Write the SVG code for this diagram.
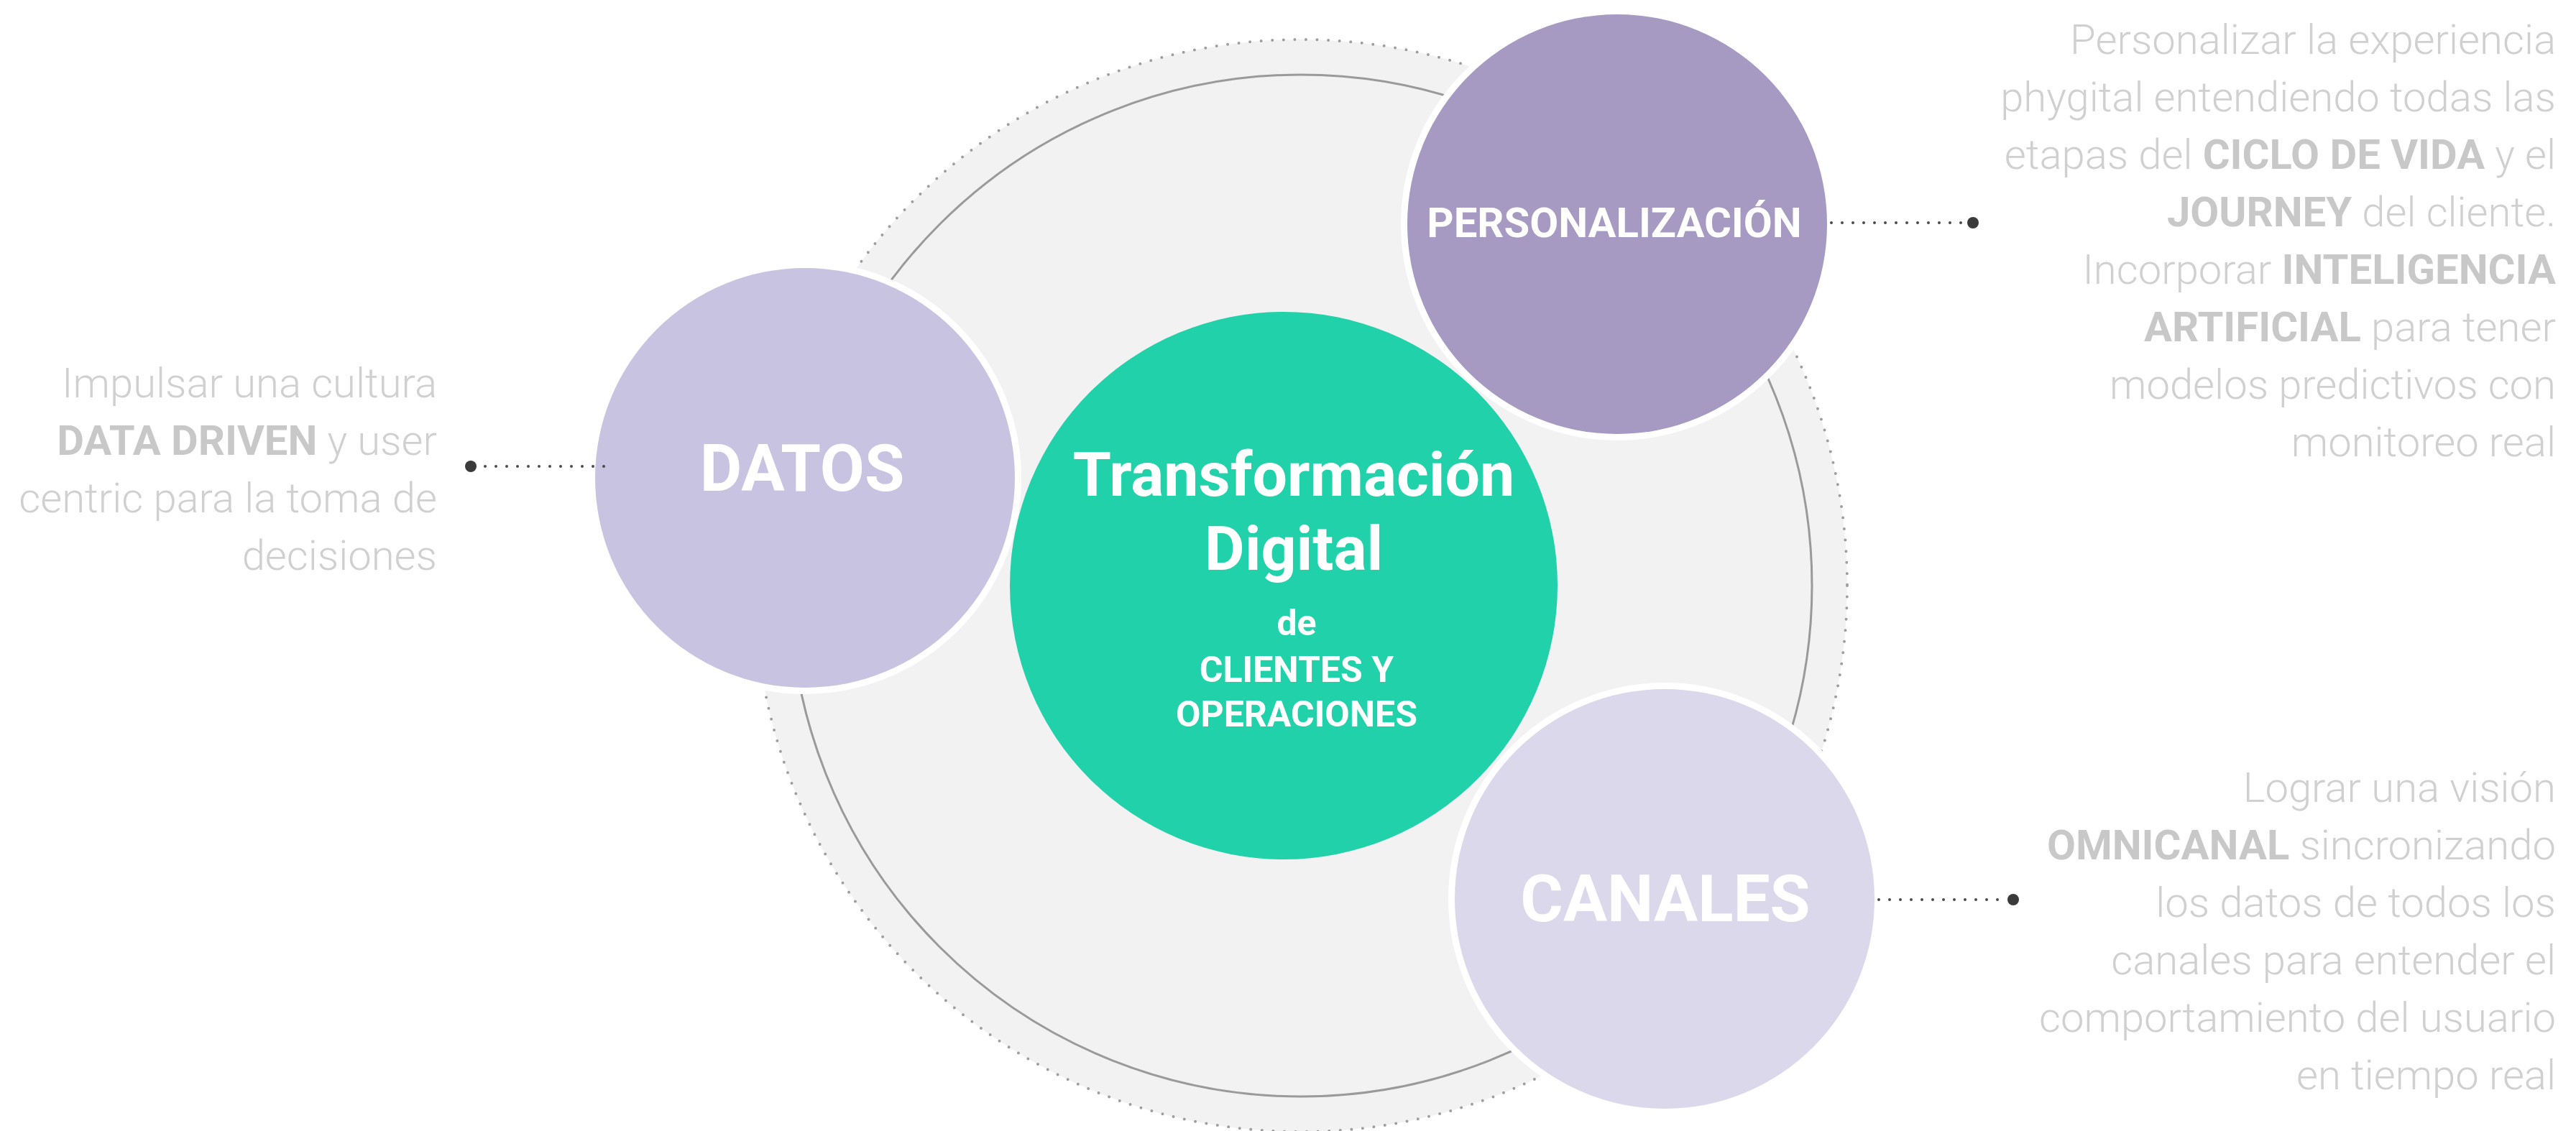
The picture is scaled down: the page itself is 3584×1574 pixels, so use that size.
<svg xmlns="http://www.w3.org/2000/svg" width="3584" height="1574" viewBox="0 0 3584 1574">
  <style>
    .desc { font-family: "Roboto Light", Roboto, "Liberation Sans", sans-serif; font-size: 58px; font-weight: 300; fill: #d0d0d0; text-anchor: end; }
    .desc .b { font-family: Roboto, "Liberation Sans", sans-serif; font-weight: 700; fill: #c8c8c8; }
    .label { font-family: Roboto, "Liberation Sans", sans-serif; font-weight: 700; fill: #ffffff; text-anchor: middle; }
    .pillar { stroke: #ffffff; stroke-width: 18; paint-order: stroke; }
    .lead { fill: none; stroke: #4a4a4a; stroke-width: 4; stroke-linecap: round; stroke-dasharray: 0 15; }
    .end { fill: #3a3a3a; }
  </style>

  <rect width="3584" height="1574" fill="#ffffff"/>

  <!-- backdrop disk with dotted rim and inner ring -->
  <g id="backdrop">
    <circle cx="1810" cy="815" r="760" fill="#f2f2f2" stroke="#9e9e9e" stroke-width="4" stroke-linecap="round" stroke-dasharray="0 15.6"/>
    <circle cx="1810" cy="815" r="711" fill="none" stroke="#9a9a9a" stroke-width="3"/>
  </g>

  <!-- centre node -->
  <g id="node-transformacion">
    <circle cx="1786" cy="815" r="381" fill="#21d1a9"/>
    <text class="label" x="1800" y="690" font-size="86">Transformación</text>
    <text class="label" x="1800" y="793" font-size="86">Digital</text>
    <text class="label" x="1804" y="884" font-size="50">de</text>
    <text class="label" x="1804" y="949" font-size="50">CLIENTES Y</text>
    <text class="label" x="1804" y="1011" font-size="50">OPERACIONES</text>
  </g>

  <!-- pillar nodes -->
  <g id="node-datos">
    <circle class="pillar" cx="1120" cy="665" r="292" fill="#c9c3e2"/>
    <text class="label" x="1116" y="683" font-size="90">DATOS</text>
  </g>
  <g id="node-personalizacion">
    <circle class="pillar" cx="2250" cy="312" r="292" fill="#a699c2"/>
    <text class="label" x="2246" y="330" font-size="58">PERSONALIZACIÓN</text>
  </g>
  <g id="node-canales">
    <circle class="pillar" cx="2316" cy="1251" r="292" fill="#dcd8eb"/>
    <text class="label" x="2317" y="1282" font-size="91">CANALES</text>
  </g>

  <!-- dotted leaders to the descriptions -->
  <g id="connectors">
    <line class="lead" x1="840" y1="649" x2="665" y2="649"/>
    <circle class="end" cx="655" cy="649" r="8"/>
    <line class="lead" x1="2548" y1="310" x2="2735" y2="310"/>
    <circle class="end" cx="2745" cy="310" r="8"/>
    <line class="lead" x1="2614" y1="1252" x2="2791" y2="1252"/>
    <circle class="end" cx="2801" cy="1252" r="8"/>
  </g>

  <!-- descriptions -->
  <g id="desc-datos">
    <text class="desc" x="608" y="553">Impulsar una cultura</text>
    <text class="desc" x="608" y="633"><tspan class="b">DATA DRIVEN</tspan> y user</text>
    <text class="desc" x="608" y="713">centric para la toma de</text>
    <text class="desc" x="608" y="793">decisiones</text>
  </g>
  <g id="desc-personalizacion">
    <text class="desc" x="3556" y="75">Personalizar la experiencia</text>
    <text class="desc" x="3556" y="155">phygital entendiendo todas las</text>
    <text class="desc" x="3556" y="235">etapas del <tspan class="b">CICLO DE VIDA</tspan> y el</text>
    <text class="desc" x="3556" y="315"><tspan class="b">JOURNEY</tspan> del cliente.</text>
    <text class="desc" x="3556" y="395">Incorporar <tspan class="b">INTELIGENCIA</tspan></text>
    <text class="desc" x="3556" y="475"><tspan class="b">ARTIFICIAL</tspan> para tener</text>
    <text class="desc" x="3556" y="555">modelos predictivos con</text>
    <text class="desc" x="3556" y="635">monitoreo real</text>
  </g>
  <g id="desc-canales">
    <text class="desc" x="3556" y="1116">Lograr una visión</text>
    <text class="desc" x="3556" y="1196"><tspan class="b">OMNICANAL</tspan> sincronizando</text>
    <text class="desc" x="3556" y="1276">los datos de todos los</text>
    <text class="desc" x="3556" y="1356">canales para entender el</text>
    <text class="desc" x="3556" y="1436">comportamiento del usuario</text>
    <text class="desc" x="3556" y="1516">en tiempo real</text>
  </g>
</svg>
